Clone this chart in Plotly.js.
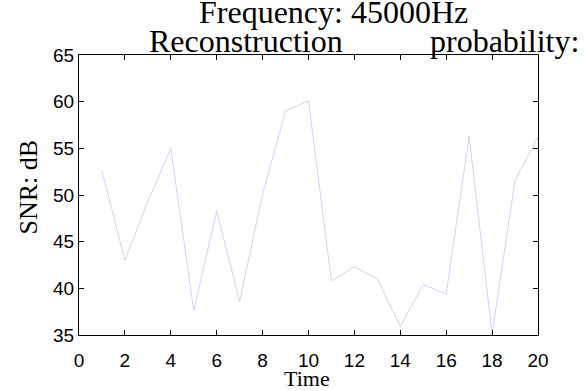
<!DOCTYPE html>
<html>
<head>
<meta charset="utf-8">
<script src="https://cdn.plot.ly/plotly-3.0.1.min.js"></script>
<style>html,body{margin:0;padding:0;background:#fff;}#chart{width:587px;height:391px;}</style>
</head>
<body>
<div id="chart"></div>
<script>
const timeValues = [1,2,3,4,5,6,7,8,9,10,11,12,13,14,15,16,17,18,19,20];
const snrValues = [52.6,43.0,49.3,55.0,37.6,48.3,38.6,50.1,59.0,60.1,40.8,42.3,41.0,35.9,40.4,39.4,56.3,35.1,51.6,56.2];
const xTicks = [0,2,4,6,8,10,12,14,16,18,20];
const yTicks = [35,40,45,50,55,60,65];
const titleLine1 = "Frequency: 45000Hz";
const titleLine2a = "Reconstruction";
const titleLine2b = "probability:";
const xTitle = "Time";
const yTitle = "SNR: dB";

const serif = "'Liberation Serif', 'Times New Roman', serif";
const sans = "'Liberation Sans', Arial, Helvetica, sans-serif";

const trace = {
  x: timeValues, y: snrValues, type: 'scatter', mode: 'lines',
  line: {color: 'rgb(196,196,255)', width: 0.8},
  hoverinfo: 'none'
};

const layout = {
  width: 587, height: 391,
  margin: {l: 79, r: 48.5, t: 55, b: 56, pad: 0},
  paper_bgcolor: '#fff', plot_bgcolor: '#fff',
  showlegend: false,
  xaxis: {
    range: [0, 20], tickmode: 'array', tickvals: xTicks, ticktext: xTicks.map(String),
    showgrid: false, zeroline: false, showline: true, linecolor: '#000', linewidth: 1,
    mirror: 'ticks', ticks: 'inside', ticklen: 5, tickcolor: '#000', tickwidth: 1,
    tickfont: {family: sans, size: 19, color: '#000'},
    ticklabelstandoff: 8
  },
  yaxis: {
    range: [35, 65], tickmode: 'array', tickvals: yTicks, ticktext: yTicks.map(String),
    showgrid: false, zeroline: false, showline: true, linecolor: '#000', linewidth: 1,
    mirror: 'ticks', ticks: 'inside', ticklen: 5, tickcolor: '#000', tickwidth: 1,
    tickfont: {family: sans, size: 19, color: '#000'}
  },
  annotations: [
    {text: titleLine1, xref: 'paper', yref: 'paper', x: (334-79)/459.5, y: 1, yshift: 23,
     xanchor: 'center', yanchor: 'bottom', showarrow: false,
     font: {family: serif, size: 32, color: '#000'}},
    {text: titleLine2a, xref: 'paper', yref: 'paper', x: (147-79)/459.5, y: 1, yshift: -6,
     xanchor: 'left', yanchor: 'bottom', showarrow: false,
     font: {family: serif, size: 32, color: '#000'}},
    {text: titleLine2b, xref: 'paper', yref: 'paper', x: (582-79)/459.5, y: 1, yshift: -6,
     xanchor: 'right', yanchor: 'bottom', showarrow: false,
     font: {family: serif, size: 32, color: '#000'}},
    {text: xTitle, xref: 'paper', yref: 'paper', x: (307-79)/459.5, y: (335-379)/280,
     xanchor: 'center', yanchor: 'middle', showarrow: false,
     font: {family: serif, size: 22, color: '#000'}},
    {text: yTitle, xref: 'paper', yref: 'paper', x: (28-79)/459.5, y: (335-187.5)/280,
     xanchor: 'center', yanchor: 'middle', textangle: -90, showarrow: false,
     font: {family: serif, size: 26, color: '#000'}}
  ]
};

Plotly.newPlot('chart', [trace], layout, {staticPlot: true, displayModeBar: false});
</script>
</body>
</html>
